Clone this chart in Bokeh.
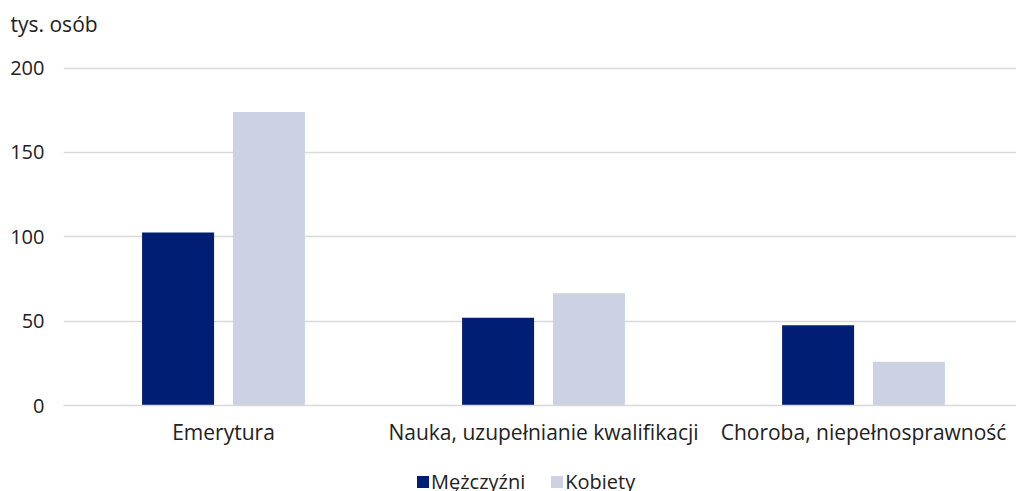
from bokeh.plotting import figure
from bokeh.layouts import column
from bokeh.models import Range1d, FixedTicker, Legend, LegendItem, ColumnDataSource
from bokeh.embed import file_html
from bokeh.resources import INLINE

categories = ["Emerytura", "Nauka, uzupełnianie kwalifikacji", "Choroba, niepełnosprawność"]
men = [102.5, 52, 47.5]
women = [174, 66.5, 26]
series_names = ["Mężczyźni", "Kobiety"]
y_ticks = [0, 50, 100, 150, 200]

FONT = "Open Sans"
TXT = "#222222"
C_MEN = "#001E73"
C_WOMEN = "#CCD2E3"

# layout constants
bar_w = 0.225
bar_off = 0.142

centers = [i + 0.5 for i in range(len(categories))]
src = ColumnDataSource(dict(
    xm=[c - bar_off for c in centers],
    xw=[c + bar_off for c in centers],
    men=men, women=women))

p = figure(width=1016, height=468, output_backend="svg", toolbar_location=None,
           x_range=Range1d(0, 2.978), y_range=Range1d(0, 214),
           min_border_left=63, min_border_right=0, min_border_top=44, min_border_bottom=63,
           title="tys. osób")
p.outline_line_color = None
p.background_fill_color = "white"
p.border_fill_color = "white"

r1 = p.vbar(x="xm", top="men", width=bar_w, source=src, fill_color=C_MEN, line_color=None)
r2 = p.vbar(x="xw", top="women", width=bar_w, source=src, fill_color=C_WOMEN, line_color=None)

p.title.text_font = FONT
p.title.text_font_size = "21px"
p.title.text_font_style = "normal"
p.title.text_color = TXT
p.title.offset = -53
p.title.standoff = 14

# y axis
p.yaxis.ticker = FixedTicker(ticks=y_ticks)
p.yaxis.axis_line_color = None
p.yaxis.major_tick_line_color = None
p.yaxis.major_tick_out = 0
p.yaxis.major_tick_in = 0
p.yaxis.minor_tick_line_color = None
p.yaxis.major_label_standoff = 19
p.yaxis.major_label_text_font = FONT
p.yaxis.major_label_text_font_size = "20px"
p.yaxis.major_label_text_color = TXT

# x axis
p.xaxis.ticker = FixedTicker(ticks=centers)
p.xaxis.major_label_overrides = {c: name for c, name in zip(centers, categories)}
p.xaxis.axis_line_color = "#D9D9D9"
p.xaxis.axis_line_width = 1.5
p.xaxis.major_tick_line_color = None
p.xaxis.major_tick_out = 0
p.xaxis.major_tick_in = 0
p.xaxis.minor_tick_line_color = None
p.xaxis.major_label_standoff = 12
p.xaxis.major_label_text_font = FONT
p.xaxis.major_label_text_font_size = "21px"
p.xaxis.major_label_text_color = TXT

p.xgrid.grid_line_color = None
p.ygrid.ticker = FixedTicker(ticks=y_ticks)
p.ygrid.grid_line_color = "#D9D9D9"
p.ygrid.grid_line_width = 1.5

# legend strip below the chart (its bars are kept out of view)
pl = figure(width=1016, height=23, output_backend="svg", toolbar_location=None,
            x_range=Range1d(0, 2.978), y_range=Range1d(300, 301),
            min_border_left=0, min_border_right=0, min_border_top=0, min_border_bottom=0)
pl.axis.visible = False
pl.grid.visible = False
pl.outline_line_color = None
lm = pl.vbar(x="xm", top="men", width=bar_w, source=src, fill_color=C_MEN, line_color=None)
lw = pl.vbar(x="xw", top="women", width=bar_w, source=src, fill_color=C_WOMEN, line_color=None)
legend = Legend(items=[LegendItem(label=series_names[0], renderers=[lm]),
                       LegendItem(label=series_names[1], renderers=[lw])],
                orientation="horizontal", location=(352, -4))
legend.border_line_color = None
legend.background_fill_alpha = 0
legend.padding = 0
legend.margin = 0
legend.spacing = 24
legend.glyph_width = 15
legend.glyph_height = 15
legend.label_standoff = 1
legend.label_text_font = FONT
legend.label_text_font_size = "20px"
legend.label_text_color = TXT
pl.add_layout(legend, "center")

open("out.html", "w").write(file_html(column(p, pl, spacing=0), INLINE))
